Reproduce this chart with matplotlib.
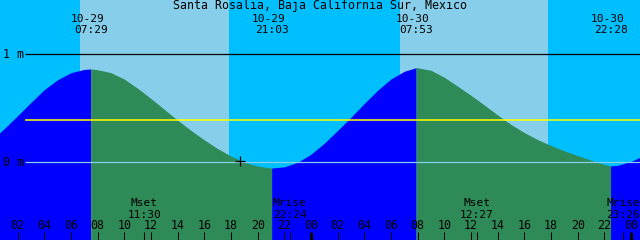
import numpy as np
import matplotlib
matplotlib.use("Agg")
import matplotlib.pyplot as plt

# hours counted from 10-29 00:00, tide height in metres
tide_hours = list(range(0, 50))
tide_m = [0.20, 0.312, 0.432, 0.555, 0.673, 0.765, 0.83, 0.86, 0.857, 0.83,
          0.77, 0.685, 0.59, 0.49, 0.39, 0.295, 0.207, 0.127, 0.057, 0.0,
          -0.035, -0.053, -0.042, 0.0, 0.075, 0.177, 0.295, 0.418, 0.545, 0.667,
          0.772, 0.843, 0.875, 0.852, 0.787, 0.705, 0.62, 0.53, 0.438, 0.35,
          0.275, 0.21, 0.155, 0.106, 0.062, 0.02, -0.02, -0.028, 0.008, 0.065]

# high / low tides
event_hours = [7.483, 21.05, 31.883, 46.467]
event_m = [0.864, -0.053, 0.876, -0.034]
event_dates = ["10-29", "10-29", "10-30", "10-30"]
event_times = ["07:29", "21:03", "07:53", "22:28"]

# daylight (sunrise, sunset)
day_spans = [(6.675, 17.85), (30.675, 41.775)]

# moon
moon_hours = [11.5, 22.4, 36.45, 47.433]
moon_names = ["Mset", "Mrise", "Mset", "Mrise"]
moon_times = ["11:30", "22:24", "12:27", "23:26"]

mean_level = 0.389
now_hour = 18.675
now_m = 0.015

title = "Santa Rosalia, Baja California Sur, Mexico"

NIGHT = "#00BFFF"
DAY = "#87CEEB"
FLOOD = "#0000FF"
EBB = "#2E8B57"

x0, x1 = 0.675, 48.675
y0, y1 = -0.7194, 1.5028
font = dict(family="DejaVu Sans Mono", size=8.4, color="black")
small = dict(font, size=8.0)

fig = plt.figure(figsize=(6.4, 2.4), dpi=100)
ax = fig.add_axes([0, 0, 1, 1])
ax.set_xlim(x0, x1)
ax.set_ylim(y0, y1)
ax.axis("off")

ax.axvspan(x0, x1, color=NIGHT, lw=0, zorder=0)
for a, b in day_spans:
    ax.axvspan(a, b, color=DAY, lw=0, zorder=0)

# curve, blue while rising and green while falling
t = np.array(tide_hours + event_hours, dtype=float)
m = np.array(tide_m + event_m, dtype=float)
order = np.argsort(t)
t, m = t[order], m[order]
bounds = [t[0]] + event_hours + [t[-1]]
for i in range(len(bounds) - 1):
    sel = (t >= bounds[i]) & (t <= bounds[i + 1])
    col = FLOOD if i % 2 == 0 else EBB
    ax.fill_between(t[sel], m[sel], y0, color=col, lw=0, zorder=1)

line_start = 2.55
ax.hlines(1.0, line_start, x1, color="black", lw=0.9, zorder=2)
ax.hlines(0.0, line_start, x1, color=DAY, lw=0.9, zorder=2)
ax.hlines(mean_level, line_start, x1, color="#FFFF00", lw=1.1, zorder=2)

tr = ax.get_xaxis_transform()
def fy(px):
    return 1 - px / 240.0

ax.text(0.9, fy(58.3), "1 m", transform=tr, ha="left", va="baseline", **font)
ax.text(0.9, fy(166), "0 m", transform=tr, ha="left", va="baseline", **font)
fig.text(0.5, fy(9), title, ha="center", va="baseline", **font)

for h, d, tm in zip(event_hours, event_dates, event_times):
    ax.text(h - 0.25, fy(21.7), d, transform=tr, ha="center", va="baseline", **small)
    ax.text(h, fy(33.3), tm, transform=tr, ha="center", va="baseline", **small)

for h, nm, tm in zip(moon_hours, moon_names, moon_times):
    ax.text(h, fy(206), nm, transform=tr, ha="center", va="baseline", **small)
    ax.text(h, fy(217.7), tm, transform=tr, ha="center", va="baseline", **small)

# hour ticks along the bottom
tick_hours = np.arange(2, 49, 2)
for h in tick_hours:
    lw = 2.2 if h % 24 == 0 else 0.75
    ax.vlines(h, 0, fy(232), transform=tr, color="black", lw=lw, zorder=3)
    ax.text(h, fy(229.3), "%02d" % (h % 24), transform=tr,
            ha="center", va="baseline", **font)
for h in moon_hours:
    ax.vlines(h, 0, fy(232), transform=tr, color="black", lw=0.75, zorder=3)

ax.plot(now_hour, now_m, marker="+", color="black", ms=6.5, mew=0.9, zorder=4)

fig.savefig("out.png", dpi=100)
